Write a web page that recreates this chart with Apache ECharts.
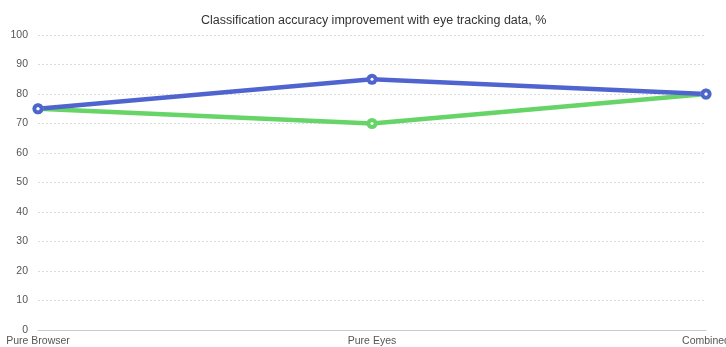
<!DOCTYPE html>
<html><head><meta charset="utf-8">
<script src="https://cdn.jsdelivr.net/npm/echarts@6/dist/echarts.min.js"></script>
<style>html,body{margin:0;padding:0;background:#fff;overflow:hidden}#c{width:726px;height:347px}</style>
</head><body><div id="c"></div>
<script>
const categories = ['Pure Browser', 'Pure Eyes', 'Combined'];
const blueValues = [75, 85, 80];
const greenValues = [75, 70, 80];
const yTicks = [0, 10, 20, 30, 40, 50, 60, 70, 80, 90, 100];

const dotLabel = {
  show: true, position: 'inside', formatter: '{d|}',
  rich: { d: { width: 3, height: 3, backgroundColor: '#fff', borderRadius: 1.5, padding: 0 } }
};

const chart = echarts.init(document.getElementById('c'));
chart.setOption({
  animation: false,
  textStyle: { fontFamily: 'Liberation Sans, Arial, sans-serif' },
  title: {
    text: 'Classification accuracy improvement with eye tracking data, %',
    left: 196, top: 9,
    textStyle: { fontSize: 12.5, fontWeight: 'normal', color: '#333', fontFamily: 'Liberation Sans, Arial, sans-serif' }
  },
  grid: { left: 38, right: 20, top: 35, bottom: 17, containLabel: false, outerBoundsMode: 'none' },
  xAxis: {
    type: 'category', data: categories, boundaryGap: false,
    axisLine: { lineStyle: { color: '#ccc' } },
    axisTick: { show: false },
    axisLabel: { color: '#555', fontSize: 10.5, margin: 6, alignMinLabel: 'center', alignMaxLabel: 'center' }
  },
  yAxis: {
    type: 'value', min: yTicks[0], max: yTicks[yTicks.length - 1], interval: 10,
    axisLine: { show: false }, axisTick: { show: false },
    axisLabel: { color: '#555', fontSize: 10.5, margin: 10 },
    splitLine: { lineStyle: { color: '#ddd', type: [2, 2] } }
  },
  series: [
    { type: 'line', data: greenValues, symbol: 'circle', symbolSize: 11,
      lineStyle: { width: 4.5, color: '#66d466' },
      itemStyle: { color: '#66d466' }, label: dotLabel },
    { type: 'line', data: blueValues, symbol: 'circle', symbolSize: 11,
      lineStyle: { width: 4.5, color: '#5064d0' },
      itemStyle: { color: '#5064d0' }, label: dotLabel }
  ]
});
</script></body></html>
